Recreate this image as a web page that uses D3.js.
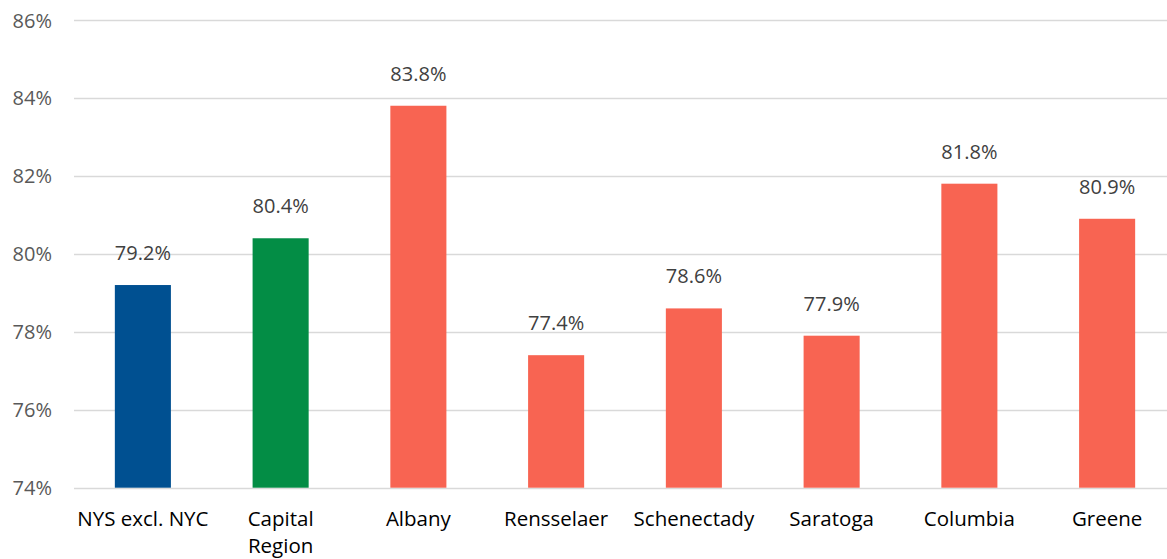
<!DOCTYPE html>
<html><head><meta charset="utf-8">
<script src="https://cdn.jsdelivr.net/npm/d3@7"></script>
<style>body{margin:0;background:#fff}svg{display:block;font-family:"Open Sans",sans-serif}</style>
</head><body><svg id="c" width="1167" height="559"></svg>
<script>
const categories = ["NYS excl. NYC", "Capital Region", "Albany", "Rensselaer", "Schenectady", "Saratoga", "Columbia", "Greene"];
const categoryLines = [["NYS excl. NYC"], ["Capital", "Region"], ["Albany"], ["Rensselaer"], ["Schenectady"], ["Saratoga"], ["Columbia"], ["Greene"]];
const values = [79.2, 80.4, 83.8, 77.4, 78.6, 77.9, 81.8, 80.9];
const barColors = ["#005091", "#038D45", "#F86452", "#F86452", "#F86452", "#F86452", "#F86452", "#F86452"];
const yTicks = [74, 76, 78, 80, 82, 84, 86];

const svg = d3.select("#c");
const x = d3.scaleBand().domain(categories).range([74, 1176]).paddingInner(0.593).paddingOuter(0.2965);
const y = d3.scaleLinear().domain([74, 86]).range([487.7, 20]);

// gridlines
svg.append("g").selectAll("line").data(yTicks).join("line")
  .attr("x1", 74).attr("x2", 1167)
  .attr("y1", d => Math.round(y(d)) + 0.5).attr("y2", d => Math.round(y(d)) + 0.5)
  .attr("stroke", "#D9D9D9").attr("stroke-width", 1.3);

// y axis labels
const yAxis = d3.axisLeft(y).tickValues(yTicks).tickFormat(d => d + "%").tickSize(0).tickPadding(0);
const ya = svg.append("g").attr("transform", "translate(52,0)").call(yAxis);
ya.select(".domain").remove();
ya.selectAll("text").attr("font-size", 20).attr("fill", "#595959").attr("font-family", "Open Sans").attr("dy", "0.35em");

// bars
svg.append("g").selectAll("rect").data(values).join("rect")
  .attr("x", (d, i) => x(categories[i]))
  .attr("width", x.bandwidth())
  .attr("y", d => y(d))
  .attr("height", d => y(74) - y(d))
  .attr("fill", (d, i) => barColors[i]);

// value labels
svg.append("g").selectAll("text").data(values).join("text")
  .attr("x", (d, i) => x(categories[i]) + x.bandwidth() / 2)
  .attr("y", d => y(d) - 25)
  .attr("text-anchor", "middle").attr("font-size", 20).attr("fill", "#404040")
  .text(d => d.toFixed(1) + "%");

// category labels
const cg = svg.append("g").selectAll("text").data(categories).join("text")
  .attr("x", d => x(d) + x.bandwidth() / 2)
  .attr("y", 526)
  .attr("text-anchor", "middle").attr("font-size", 20.5).attr("fill", "#000");
cg.each(function(d, i) {
  const t = d3.select(this);
  categoryLines[i].forEach((line, j) => {
    t.append("tspan").attr("x", x(d) + x.bandwidth() / 2).attr("dy", j === 0 ? 0 : 27).text(line);
  });
});
</script></body></html>
